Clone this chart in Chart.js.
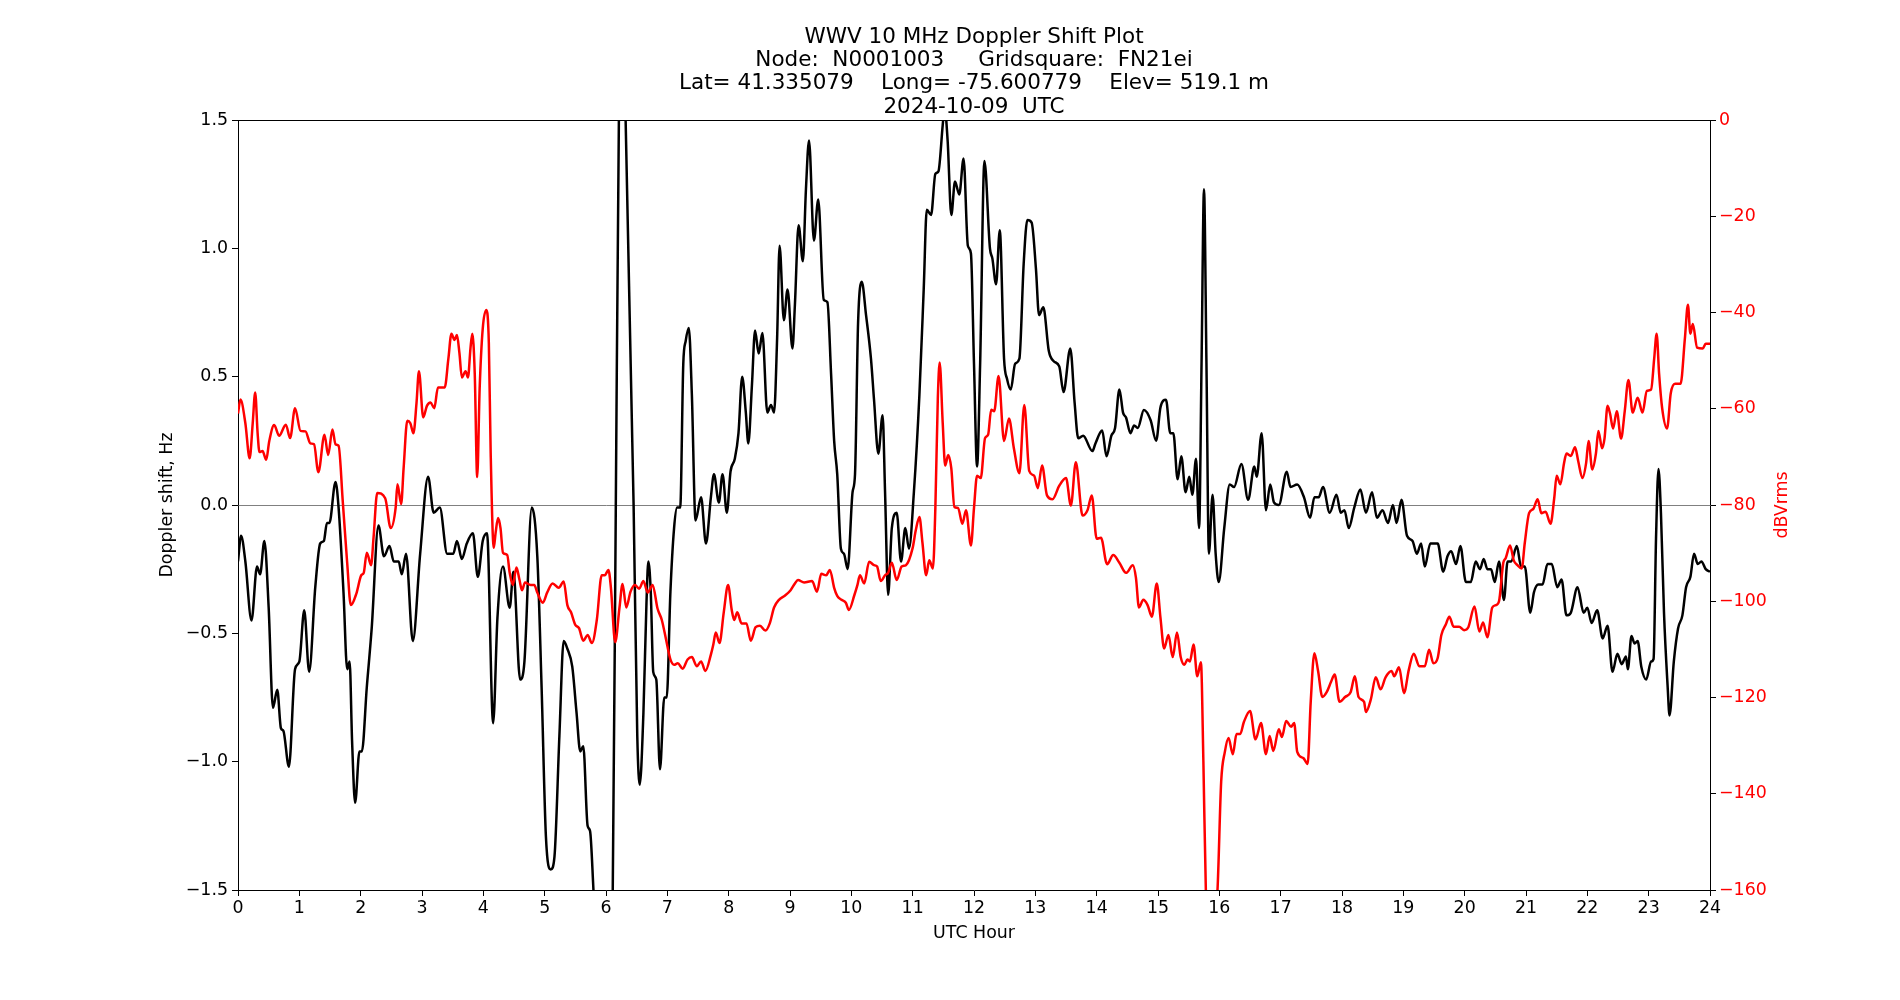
<!DOCTYPE html>
<html>
<head>
<meta charset="utf-8">
<title>WWV 10 MHz Doppler Shift Plot</title>
<script src="https://cdn.jsdelivr.net/npm/chart.js@4.4.1/dist/chart.umd.min.js"></script>
<style>
  html, body { margin: 0; padding: 0; background: #fff; }
  #wrap { width: 1900px; height: 1000px; }
</style>
</head>
<body>
<div id="wrap"><canvas id="chart" width="1900" height="1000"></canvas></div>
<script>
// Title lines
const titleLines = [
    'WWV 10 MHz Doppler Shift Plot',
    'Node:  N0001003     Gridsquare:  FN21ei',
    'Lat= 41.335079    Long= -75.600779    Elev= 519.1 m',
    '2024-10-09  UTC'
];

// Doppler shift trace: [UTC hour, Hz]
const dopplerTrace = [
    [0.00, -0.22], [0.05, -0.12], [0.12, -0.22], [0.22, -0.45], [0.31, -0.24], [0.36, -0.27], [0.43, -0.14], [0.50, -0.40],
    [0.57, -0.79], [0.64, -0.72], [0.70, -0.87], [0.74, -0.88], [0.83, -1.02], [0.93, -0.64], [1.00, -0.61], [1.08, -0.41],
    [1.16, -0.65], [1.26, -0.32], [1.34, -0.15], [1.40, -0.14], [1.45, -0.07], [1.49, -0.07], [1.59, 0.09], [1.64, -0.01],
    [1.72, -0.34], [1.78, -0.64], [1.82, -0.61], [1.86, -0.92], [1.91, -1.16], [1.98, -0.96], [2.02, -0.96], [2.10, -0.71],
    [2.18, -0.48], [2.29, -0.08], [2.38, -0.20], [2.47, -0.16], [2.54, -0.22], [2.62, -0.22], [2.67, -0.27], [2.74, -0.19],
    [2.85, -0.53], [2.97, -0.19], [3.10, 0.11], [3.19, -0.03], [3.29, -0.01], [3.41, -0.19], [3.51, -0.19], [3.57, -0.14],
    [3.65, -0.21], [3.73, -0.15], [3.83, -0.11], [3.91, -0.28], [3.99, -0.14], [4.06, -0.11], [4.16, -0.85], [4.23, -0.44],
    [4.32, -0.24], [4.43, -0.40], [4.49, -0.26], [4.60, -0.68], [4.67, -0.61], [4.79, -0.01], [4.88, -0.20], [4.95, -0.71],
    [5.02, -1.29], [5.10, -1.42], [5.16, -1.37], [5.24, -0.90], [5.31, -0.53], [5.37, -0.56], [5.45, -0.63], [5.52, -0.81],
    [5.58, -0.96], [5.63, -0.94], [5.70, -1.25], [5.74, -1.27], [5.80, -1.52], [5.88, -1.85], [5.98, -2.00], [6.06, -1.85],
    [6.11, -1.50], [6.16, 0.00], [6.21, 1.50], [6.26, 1.80], [6.32, 1.50], [6.45, 0.00], [6.51, -0.90], [6.55, -1.09],
    [6.61, -0.81], [6.66, -0.38], [6.69, -0.22], [6.73, -0.34], [6.77, -0.65], [6.82, -0.68], [6.88, -1.03], [6.95, -0.75],
    [6.99, -0.75], [7.05, -0.34], [7.11, -0.09], [7.16, -0.01], [7.21, -0.01], [7.26, 0.55], [7.30, 0.64], [7.35, 0.69],
    [7.40, 0.43], [7.46, -0.06], [7.55, 0.03], [7.63, -0.15], [7.71, 0.03], [7.76, 0.12], [7.84, 0.01], [7.90, 0.12],
    [7.97, -0.03], [8.03, 0.13], [8.10, 0.18], [8.16, 0.28], [8.22, 0.50], [8.28, 0.36], [8.32, 0.24], [8.38, 0.47],
    [8.43, 0.68], [8.49, 0.59], [8.55, 0.67], [8.63, 0.36], [8.69, 0.39], [8.74, 0.36], [8.79, 0.65], [8.83, 1.01],
    [8.90, 0.72], [8.96, 0.84], [9.04, 0.61], [9.08, 0.78], [9.14, 1.09], [9.21, 0.95], [9.26, 1.23], [9.31, 1.42],
    [9.39, 1.03], [9.46, 1.19], [9.55, 0.80], [9.61, 0.79], [9.67, 0.51], [9.72, 0.25], [9.77, 0.12], [9.83, -0.17],
    [9.88, -0.19], [9.94, -0.25], [10.02, 0.05], [10.06, 0.12], [10.11, 0.71], [10.17, 0.87], [10.24, 0.74], [10.32, 0.57],
    [10.37, 0.41], [10.44, 0.20], [10.51, 0.35], [10.55, 0.05], [10.60, -0.35], [10.66, -0.09], [10.74, -0.03], [10.81, -0.22],
    [10.88, -0.09], [10.94, -0.17], [11.02, 0.05], [11.11, 0.43], [11.18, 0.84], [11.23, 1.15], [11.30, 1.13], [11.37, 1.29],
    [11.42, 1.30], [11.49, 1.48], [11.52, 1.55], [11.57, 1.42], [11.63, 1.13], [11.69, 1.26], [11.76, 1.21], [11.83, 1.35],
    [11.90, 1.01], [11.95, 0.98], [12.00, 0.55], [12.05, 0.15], [12.10, 0.55], [12.17, 1.34], [12.26, 1.00], [12.30, 0.96],
    [12.36, 0.86], [12.42, 1.07], [12.49, 0.57], [12.54, 0.49], [12.60, 0.45], [12.67, 0.55], [12.74, 0.57], [12.81, 0.94],
    [12.87, 1.11], [12.94, 1.10], [13.01, 0.92], [13.06, 0.74], [13.13, 0.77], [13.22, 0.60], [13.30, 0.56], [13.39, 0.54],
    [13.46, 0.44], [13.57, 0.61], [13.64, 0.40], [13.70, 0.26], [13.78, 0.27], [13.93, 0.21], [13.98, 0.24], [14.09, 0.29],
    [14.16, 0.19], [14.24, 0.27], [14.30, 0.30], [14.37, 0.45], [14.43, 0.36], [14.48, 0.34], [14.55, 0.28], [14.61, 0.31],
    [14.67, 0.30], [14.77, 0.37], [14.88, 0.33], [14.97, 0.25], [15.04, 0.38], [15.13, 0.41], [15.20, 0.28], [15.25, 0.28],
    [15.32, 0.10], [15.38, 0.19], [15.45, 0.05], [15.51, 0.11], [15.56, 0.04], [15.62, 0.18], [15.67, -0.09], [15.71, 0.55],
    [15.75, 1.23], [15.79, 0.55], [15.83, -0.19], [15.89, 0.04], [15.94, -0.19], [15.99, -0.30], [16.08, -0.09], [16.17, 0.08],
    [16.24, 0.07], [16.36, 0.16], [16.47, 0.02], [16.57, 0.15], [16.61, 0.11], [16.69, 0.28], [16.76, -0.02], [16.83, 0.08],
    [16.89, 0.01], [16.97, 0.00], [17.10, 0.13], [17.16, 0.07], [17.27, 0.08], [17.38, 0.03], [17.48, -0.05], [17.55, 0.03],
    [17.62, 0.03], [17.69, 0.07], [17.80, -0.03], [17.91, 0.04], [17.98, -0.03], [18.04, -0.02], [18.11, -0.09], [18.20, -0.01],
    [18.30, 0.06], [18.39, -0.03], [18.49, 0.05], [18.57, -0.05], [18.66, -0.02], [18.75, -0.07], [18.83, 0.00], [18.89, -0.07],
    [18.97, 0.02], [19.06, -0.12], [19.15, -0.14], [19.22, -0.19], [19.29, -0.15], [19.35, -0.24], [19.44, -0.15], [19.56, -0.15],
    [19.65, -0.26], [19.72, -0.20], [19.78, -0.18], [19.86, -0.23], [19.93, -0.16], [20.02, -0.30], [20.10, -0.30], [20.18, -0.22],
    [20.25, -0.25], [20.31, -0.21], [20.37, -0.25], [20.43, -0.25], [20.49, -0.30], [20.56, -0.22], [20.64, -0.37], [20.70, -0.22],
    [20.76, -0.22], [20.85, -0.16], [20.92, -0.24], [20.98, -0.24], [21.07, -0.42], [21.13, -0.34], [21.20, -0.31], [21.27, -0.31],
    [21.35, -0.23], [21.42, -0.23], [21.51, -0.32], [21.58, -0.29], [21.66, -0.43], [21.73, -0.42], [21.84, -0.32], [21.94, -0.42],
    [22.00, -0.40], [22.07, -0.46], [22.16, -0.41], [22.25, -0.52], [22.33, -0.47], [22.41, -0.65], [22.49, -0.58], [22.56, -0.62],
    [22.63, -0.59], [22.66, -0.64], [22.72, -0.51], [22.77, -0.54], [22.82, -0.53], [22.88, -0.63], [22.96, -0.68], [23.04, -0.61],
    [23.08, -0.60], [23.12, -0.13], [23.16, 0.14], [23.20, -0.03], [23.25, -0.42], [23.31, -0.71], [23.34, -0.82], [23.41, -0.61],
    [23.48, -0.48], [23.55, -0.43], [23.61, -0.32], [23.68, -0.28], [23.74, -0.19], [23.80, -0.23], [23.86, -0.22], [23.93, -0.25],
    [24.00, -0.26]
];

// Signal level trace: [UTC hour, dBVrms]
const powerTrace = [
    [0.00, -61.0], [0.04, -58.1], [0.12, -63.0], [0.19, -70.3], [0.24, -63.0], [0.28, -56.6], [0.32, -65.1], [0.35, -69.0],
    [0.40, -68.8], [0.46, -70.6], [0.51, -66.7], [0.59, -63.4], [0.67, -65.6], [0.78, -63.3], [0.85, -66.1], [0.93, -59.9],
    [1.02, -64.6], [1.10, -64.7], [1.18, -67.2], [1.24, -67.4], [1.31, -73.2], [1.41, -65.4], [1.47, -69.6], [1.54, -64.3],
    [1.59, -67.4], [1.64, -67.7], [1.71, -79.6], [1.78, -92.0], [1.84, -100.8], [1.93, -98.4], [2.01, -94.6], [2.05, -94.1],
    [2.10, -89.9], [2.17, -92.5], [2.21, -86.8], [2.27, -77.5], [2.40, -78.6], [2.49, -84.8], [2.57, -80.6], [2.60, -75.7],
    [2.66, -79.8], [2.70, -72.4], [2.76, -62.5], [2.81, -63.0], [2.86, -65.1], [2.91, -58.9], [2.95, -52.2], [3.02, -61.8],
    [3.08, -59.4], [3.14, -58.7], [3.20, -59.9], [3.26, -55.6], [3.37, -55.6], [3.43, -49.6], [3.48, -44.4], [3.53, -45.7],
    [3.57, -44.7], [3.61, -48.4], [3.65, -53.5], [3.71, -52.2], [3.75, -53.5], [3.79, -47.5], [3.82, -44.4], [3.86, -52.7],
    [3.90, -74.2], [3.94, -55.8], [3.99, -43.4], [4.05, -39.5], [4.09, -46.5], [4.12, -69.3], [4.17, -88.9], [4.20, -85.8],
    [4.24, -82.7], [4.28, -84.8], [4.32, -89.9], [4.39, -90.4], [4.43, -94.1], [4.48, -96.6], [4.54, -93.0], [4.59, -95.6],
    [4.63, -97.7], [4.68, -96.1], [4.77, -96.6], [4.83, -96.6], [4.88, -98.2], [4.97, -100.3], [5.04, -98.2], [5.13, -96.3],
    [5.23, -97.2], [5.31, -95.9], [5.37, -100.8], [5.43, -102.3], [5.50, -104.9], [5.56, -105.6], [5.63, -108.2], [5.70, -107.0],
    [5.77, -108.7], [5.85, -103.9], [5.93, -94.6], [5.98, -94.6], [6.04, -93.5], [6.08, -97.2], [6.15, -108.5], [6.22, -101.3],
    [6.27, -96.4], [6.33, -101.3], [6.40, -98.0], [6.47, -96.6], [6.54, -97.4], [6.61, -95.8], [6.68, -98.2], [6.76, -96.6],
    [6.84, -101.5], [6.91, -103.9], [6.98, -108.0], [7.05, -112.1], [7.11, -113.2], [7.17, -112.9], [7.25, -114.0], [7.33, -112.1],
    [7.40, -111.6], [7.48, -113.5], [7.55, -112.5], [7.62, -114.5], [7.71, -111.1], [7.75, -109.0], [7.79, -106.5], [7.85, -108.7],
    [7.92, -102.3], [7.99, -96.6], [8.05, -101.8], [8.09, -103.9], [8.14, -102.3], [8.21, -104.6], [8.29, -104.6], [8.36, -108.2],
    [8.44, -105.4], [8.51, -105.1], [8.60, -106.1], [8.67, -104.6], [8.74, -101.3], [8.82, -99.7], [8.92, -98.8], [9.01, -97.7],
    [9.08, -96.3], [9.13, -95.6], [9.23, -96.1], [9.36, -95.8], [9.44, -98.0], [9.51, -94.3], [9.59, -94.6], [9.65, -93.5],
    [9.72, -97.2], [9.77, -98.9], [9.84, -99.7], [9.91, -100.3], [9.96, -101.8], [10.05, -98.7], [10.10, -96.6], [10.14, -94.6],
    [10.21, -96.3], [10.29, -91.8], [10.37, -92.5], [10.42, -92.8], [10.48, -95.8], [10.55, -94.6], [10.60, -94.1], [10.66, -92.0],
    [10.74, -95.6], [10.82, -92.8], [10.89, -92.5], [11.00, -88.9], [11.05, -85.3], [11.11, -82.5], [11.16, -87.9], [11.22, -94.6],
    [11.27, -91.5], [11.33, -93.2], [11.37, -80.6], [11.41, -57.9], [11.44, -50.4], [11.49, -63.0], [11.53, -71.8], [11.58, -69.6],
    [11.63, -72.4], [11.68, -80.4], [11.74, -80.6], [11.81, -83.9], [11.87, -81.1], [11.95, -88.4], [12.00, -80.6], [12.05, -73.9],
    [12.11, -74.4], [12.18, -66.1], [12.23, -65.4], [12.28, -60.2], [12.33, -60.5], [12.40, -53.2], [12.49, -66.7], [12.57, -62.0],
    [12.65, -68.2], [12.74, -73.4], [12.82, -59.2], [12.90, -72.9], [12.98, -73.9], [13.04, -76.5], [13.11, -71.8], [13.19, -78.0],
    [13.28, -78.8], [13.39, -76.0], [13.50, -74.4], [13.58, -80.1], [13.66, -71.1], [13.77, -82.2], [13.85, -81.1], [13.92, -78.0],
    [14.00, -87.0], [14.07, -86.8], [14.17, -92.3], [14.27, -90.4], [14.37, -92.0], [14.48, -94.1], [14.59, -92.5], [14.64, -95.1],
    [14.69, -101.3], [14.76, -99.7], [14.83, -100.8], [14.90, -103.2], [14.98, -96.3], [15.04, -103.4], [15.10, -109.8], [15.17, -107.0],
    [15.24, -111.6], [15.31, -106.5], [15.37, -111.6], [15.43, -113.2], [15.48, -112.1], [15.52, -112.5], [15.58, -109.0], [15.64, -115.6],
    [15.70, -112.7], [15.74, -133.3], [15.78, -160.0], [15.87, -172.0], [15.97, -160.0], [16.03, -137.5], [16.09, -131.3], [16.15, -128.4],
    [16.22, -131.8], [16.28, -127.6], [16.34, -127.6], [16.40, -125.1], [16.50, -122.8], [16.59, -128.7], [16.68, -125.3], [16.76, -131.8],
    [16.82, -128.0], [16.88, -131.1], [16.97, -126.6], [17.02, -128.2], [17.09, -124.9], [17.17, -126.1], [17.22, -125.3], [17.27, -131.3],
    [17.37, -132.6], [17.44, -133.8], [17.49, -120.9], [17.55, -110.8], [17.61, -114.5], [17.68, -119.9], [17.75, -118.9], [17.82, -116.8],
    [17.88, -115.2], [17.96, -120.9], [18.05, -119.9], [18.14, -118.9], [18.21, -115.6], [18.27, -119.9], [18.36, -120.9], [18.39, -123.0],
    [18.47, -120.4], [18.55, -115.8], [18.63, -118.3], [18.71, -115.8], [18.81, -114.5], [18.85, -115.6], [18.93, -113.7], [19.01, -119.1],
    [19.09, -114.2], [19.17, -110.9], [19.26, -113.5], [19.35, -113.5], [19.42, -110.1], [19.49, -112.9], [19.56, -111.8], [19.62, -107.0],
    [19.69, -104.9], [19.75, -103.2], [19.82, -105.3], [19.91, -105.3], [19.99, -106.0], [20.06, -105.4], [20.16, -101.1], [20.24, -106.3],
    [20.30, -104.4], [20.37, -107.5], [20.45, -101.3], [20.51, -100.8], [20.56, -100.0], [20.63, -92.0], [20.67, -91.0], [20.74, -88.4],
    [20.80, -91.5], [20.86, -92.5], [20.93, -93.2], [20.98, -87.9], [21.05, -81.7], [21.12, -80.8], [21.19, -78.8], [21.25, -81.7],
    [21.32, -81.4], [21.40, -83.9], [21.46, -78.6], [21.50, -73.9], [21.56, -75.7], [21.62, -71.3], [21.66, -69.3], [21.73, -69.8],
    [21.80, -68.0], [21.85, -70.8], [21.92, -74.4], [21.98, -71.3], [22.02, -66.7], [22.08, -72.6], [22.14, -69.3], [22.18, -64.6],
    [22.24, -68.2], [22.28, -66.2], [22.33, -59.4], [22.37, -61.0], [22.42, -64.1], [22.48, -60.5], [22.55, -66.2], [22.61, -60.5],
    [22.67, -54.0], [22.74, -60.8], [22.82, -57.7], [22.90, -60.8], [22.97, -56.3], [23.04, -56.0], [23.09, -49.6], [23.13, -44.4],
    [23.17, -52.7], [23.22, -59.9], [23.30, -64.1], [23.36, -56.8], [23.43, -54.8], [23.52, -54.8], [23.59, -45.5], [23.64, -38.4],
    [23.68, -44.4], [23.72, -42.4], [23.79, -47.3], [23.88, -47.5], [23.93, -46.5], [24.00, -46.5]
];

// Axis ranges and tick steps
const hourRange = [0, 24];
const hzRange = [-1.5, 1.5];
const dbRange = [-160, 0];

const FONT = '"DejaVu Sans", sans-serif';
const minus = (s) => s.replace('-', '\u2212');

Chart.defaults.font.family = FONT;
Chart.defaults.font.size = 17.4;
Chart.defaults.color = '#000';

// Рамка сверху, заголовок и подпись правой оси
const decorations = {
    id: 'decorations',
    afterDraw(chart) {
        const {ctx, chartArea} = chart;
        ctx.save();
        ctx.strokeStyle = '#000';
        ctx.lineWidth = 1;
        ctx.beginPath();
        ctx.moveTo(chartArea.left, chartArea.top + 0.5);
        ctx.lineTo(chartArea.right, chartArea.top + 0.5);
        ctx.stroke();

        ctx.fillStyle = '#000';
        ctx.font = '21.5px ' + FONT;
        ctx.textAlign = 'center';
        ctx.textBaseline = 'middle';
        const cx = (chartArea.left + chartArea.right) / 2;
        titleLines.forEach((line, i) => ctx.fillText(line, cx, 37.5 + i * 23.2));

        ctx.translate(1782, (chartArea.top + chartArea.bottom) / 2);
        ctx.rotate(-Math.PI / 2);
        ctx.fillStyle = '#ff0000';
        ctx.font = '17.4px ' + FONT;
        ctx.fillText('dBVrms', 0, 0);
        ctx.restore();
    }
};

new Chart(document.getElementById('chart'), {
    type: 'line',
    data: {
        datasets: [
            {
                label: 'dBVrms',
                data: powerTrace.map(p => ({x: p[0], y: p[1]})),
                yAxisID: 'y1',
                borderColor: '#ff0000',
                borderWidth: 2.5,
                pointRadius: 0,
                cubicInterpolationMode: 'monotone',
                order: 0
            },
            {
                label: 'Doppler shift, Hz',
                data: dopplerTrace.map(p => ({x: p[0], y: p[1]})),
                yAxisID: 'y',
                borderColor: '#000000',
                borderWidth: 2.5,
                pointRadius: 0,
                cubicInterpolationMode: 'monotone',
                order: 1
            }
        ]
    },
    options: {
        responsive: false,
        animation: false,
        devicePixelRatio: 1,
        layout: {padding: {top: 120, left: 0, right: 0, bottom: 0}},
        plugins: {
            legend: {display: false},
            tooltip: {enabled: false},
            title: {display: false}
        },
        scales: {
            x: {
                type: 'linear',
                min: hourRange[0],
                max: hourRange[1],
                ticks: {stepSize: 1, padding: 2, maxRotation: 0, autoSkip: false},
                grid: {drawOnChartArea: false, tickLength: 6, color: '#000'},
                border: {color: '#000', width: 1},
                title: {display: true, text: 'UTC Hour', padding: {top: 0, bottom: 56.5}},
                afterFit(scale) { scale.height = 110; }
            },
            y: {
                position: 'left',
                min: hzRange[0],
                max: hzRange[1],
                ticks: {stepSize: 0.5, padding: 4, callback: v => minus(v.toFixed(1))},
                grid: {
                    // только нулевая линия
                    color: c => (c.tick && c.tick.value === 0) ? '#808080' : 'rgba(0,0,0,0)',
                    tickColor: '#000',
                    tickLength: 6,
                    lineWidth: 1
                },
                border: {color: '#000', width: 1},
                title: {display: true, text: 'Doppler shift, Hz', padding: {top: 157.5, bottom: 0}},
                afterFit(scale) { scale.width = 238; }
            },
            y1: {
                position: 'right',
                min: dbRange[0],
                max: dbRange[1],
                ticks: {stepSize: 20, padding: 3, color: '#ff0000', callback: v => minus(String(v))},
                grid: {drawOnChartArea: false, tickColor: '#000', tickLength: 6},
                border: {color: '#000', width: 1},
                afterFit(scale) { scale.width = 190; }
            }
        }
    },
    plugins: [decorations]
});
</script>
</body>
</html>
